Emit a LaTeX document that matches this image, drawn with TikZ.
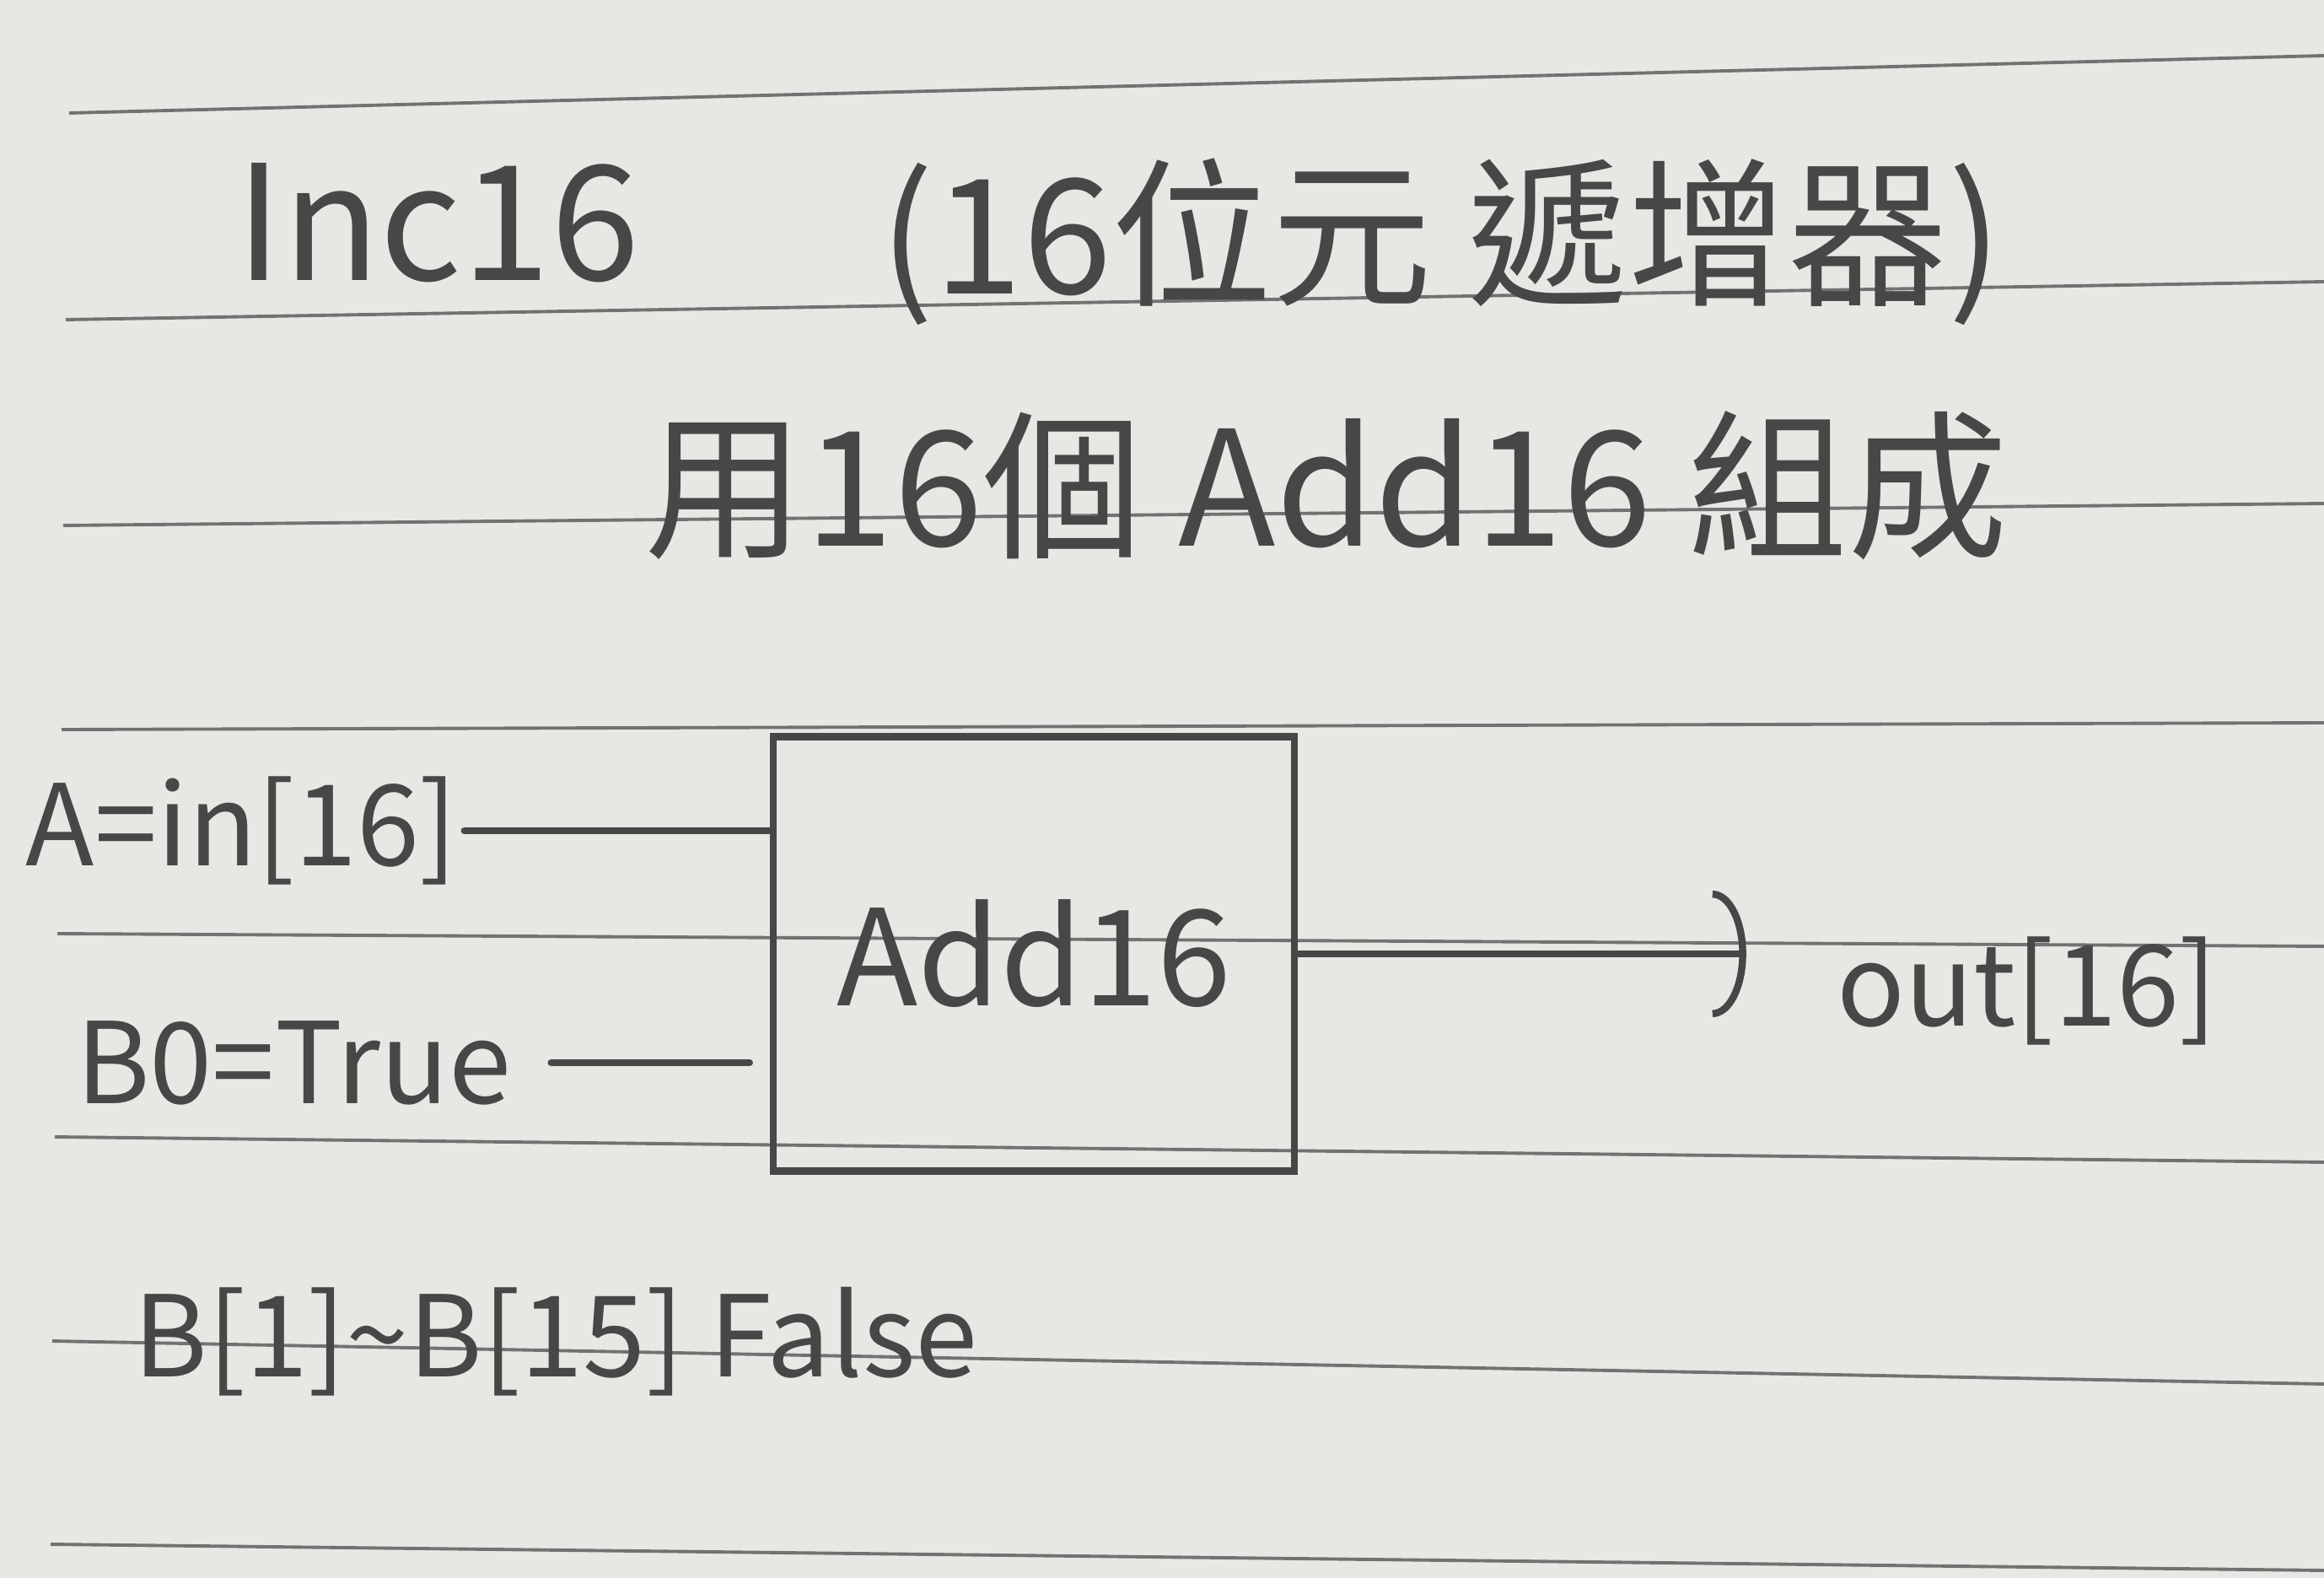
\documentclass[tikz,border=0pt]{standalone}
\usepackage{fontspec}
\newfontfamily\hand{Noto Sans CJK TC}
\usetikzlibrary{calc, arrows.meta}
\definecolor{paper}{HTML}{E8E7E4}
\definecolor{linegray}{HTML}{727272}
\definecolor{pencil}{HTML}{474747}
\tikzset{
  ruled/.style={linegray, line width=1.1pt},
  title/.style={text=pencil, font=\hand\fontsize{54pt}{54pt}\selectfont, inner sep=2pt},
  sig/.style={text=pencil, font=\hand\fontsize{38pt}{38pt}\selectfont, inner sep=2pt},
  box/.style={draw=pencil, line width=2.4pt, text=pencil, font=\hand\fontsize{45pt}{45pt}\selectfont,
    minimum width=6.18cm, minimum height=5.15cm},
  wire/.style={pencil, line width=2.4pt, line cap=round}
}

\begin{document}
\begin{tikzpicture}
      % 0. 紙
      \fill[paper] (0,0) rectangle (27.56,-18.71);
      \useasboundingbox (0,0) rectangle (27.56,-18.71);

      % 1. 橫線
      \foreach \xl/\yl/\yr in {0.82/1.34/0.66, 0.78/3.79/3.34, 0.75/6.23/5.97, 0.73/8.65/8.57,
          0.68/11.07/11.22, 0.65/13.48/13.78, 0.62/15.90/16.41, 0.60/18.31/18.62}
        \draw[ruled] (\xl,-\yl) -- (27.56,-\yr);

      % 2. 標題
      \node[title] (inc) at (5.19,-2.64) {Inc16};
      \node[title] (desc) at (17.09,-2.87) {(16位元 遞增器)};
      \node[title] (howto) at (15.73,-5.76) {用16個 Add16 組成};

      % 3. Add16 方塊
      \node[box] (add) at (12.26,-11.31) {Add16};

      % 4. 輸入與輸出
      \node[sig] (ain) at (2.87,-9.85) {A=in[16]};
      \node[sig] (bzero) at (3.48,-12.6) {B0=True};
      \node[sig] (out) at (24.04,-11.75) {out[16]};
      \node[sig] (bfalse) at (6.59,-15.91) {B[1]\textasciitilde B[15] False};

      \draw[wire] (ain.east) -- (ain.east -| add.west);
      \draw[wire, shorten <=4mm, shorten >=2.4mm] (bzero.east) -- (bzero.east -| add.west);
      \draw[wire, -{Arc Barb[length=4mm, width=15mm]}, shorten >=10mm] (add.east) -- (add.east -| out.west);
\end{tikzpicture}
\end{document}
